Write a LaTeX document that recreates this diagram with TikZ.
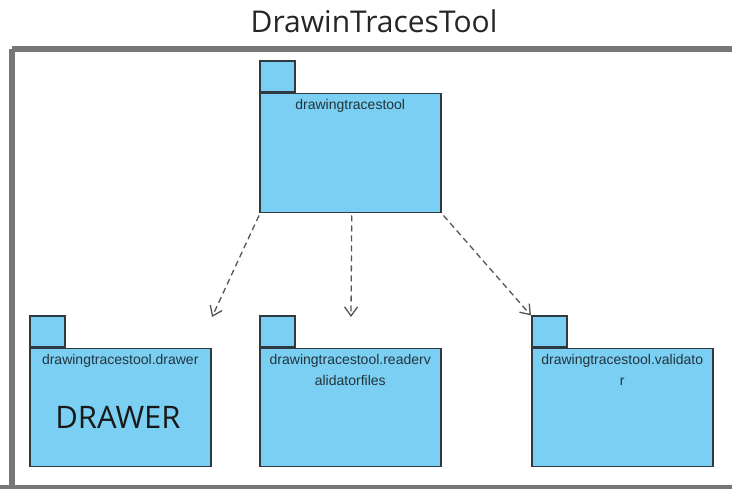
\documentclass[tikz,border=0pt]{standalone}
\usepackage{fontspec}
\setmainfont{Liberation Sans}
\newfontfamily\titlefont{Open Sans}
\usetikzlibrary{arrows.meta}
\definecolor{pkgfill}{HTML}{7ACFF2}
\definecolor{pkgline}{HTML}{2E3A40}
\definecolor{labeltext}{HTML}{22343C}
\definecolor{framegray}{HTML}{777777}
\definecolor{depgray}{HTML}{555555}
\tikzset{
  pkgbody/.style={draw=pkgline, fill=pkgfill, line width=1.5pt, rectangle, inner sep=0pt, anchor=north west},
  pkgtab/.style={draw=pkgline, fill=pkgfill, line width=1.5pt, rectangle, inner sep=0pt, anchor=south west, minimum width=35pt, minimum height=31pt},
  pkglabel/.style={anchor=north, inner sep=0pt, align=center, font=\fontsize{14}{21}\selectfont, text=labeltext},
  dep/.style={draw=depgray, line width=1.3pt, dash pattern=on 6pt off 4pt, -{Straight Barb[length=9pt,width=13pt,line width=1.3pt]}},
}
\begin{document}
\begin{tikzpicture}[x=1pt, y=-1pt]
  \useasboundingbox (0,0) rectangle (732,489);
  \fill[white] (0,0) rectangle (732,489);

  % title and outer frame
  \node[font=\titlefont\fontsize{30}{34}\selectfont, text=black!85, anchor=base] (title) at (374,33) {DrawinTracesTool};
  \draw[framegray, line width=6pt] (11.5,49.5) -- (740,49.5) (11.5,49.5) -- (11.5,488) (0,488) -- (740,488);

  % root package
  \node[pkgbody, minimum width=181pt, minimum height=119pt] (rootb) at (259,93) {};
  \node[pkgtab] (roott) at (rootb.north west) {};
  \node[pkglabel] (rootl) at ([yshift=-6pt]rootb.north) {drawingtracestool};

  % drawer package
  \node[pkgbody, minimum width=181pt, minimum height=118pt] (drawb) at (29,348) {};
  \node[pkgtab] (drawt) at (drawb.north west) {};
  \node[pkglabel] (drawl) at ([yshift=-6pt]drawb.north) {drawingtracestool.drawer};
  \node[font=\titlefont\fontsize{31}{36}\selectfont, text=black!90] (drawtxt) at (118,417) {DRAWER};

  % reader/validator files package
  \node[pkgbody, minimum width=181pt, minimum height=118pt] (readb) at (259,348) {};
  \node[pkgtab] (readt) at (readb.north west) {};
  \node[pkglabel] (readl) at ([yshift=-6pt]readb.north) {drawingtracestool.readerv\\alidatorfiles};

  % validator package
  \node[pkgbody, minimum width=181pt, minimum height=118pt] (valb) at (531,348) {};
  \node[pkgtab] (valt) at (valb.north west) {};
  \node[pkglabel] (vall) at ([yshift=-6pt]valb.north) {drawingtracestool.validato\\r};

  % dependencies
  \coordinate (e1) at (212,317);
  \coordinate (e2) at (351,317);
  \draw[dep] ([yshift=-2pt]rootb.south west) -- (e1);
  \draw[dep] ([xshift=1.5pt,yshift=-2pt]rootb.south) -- (e2);
  \draw[dep] ([xshift=2pt,yshift=-2pt]rootb.south east) -- (valt.north west);
\end{tikzpicture}
\end{document}
